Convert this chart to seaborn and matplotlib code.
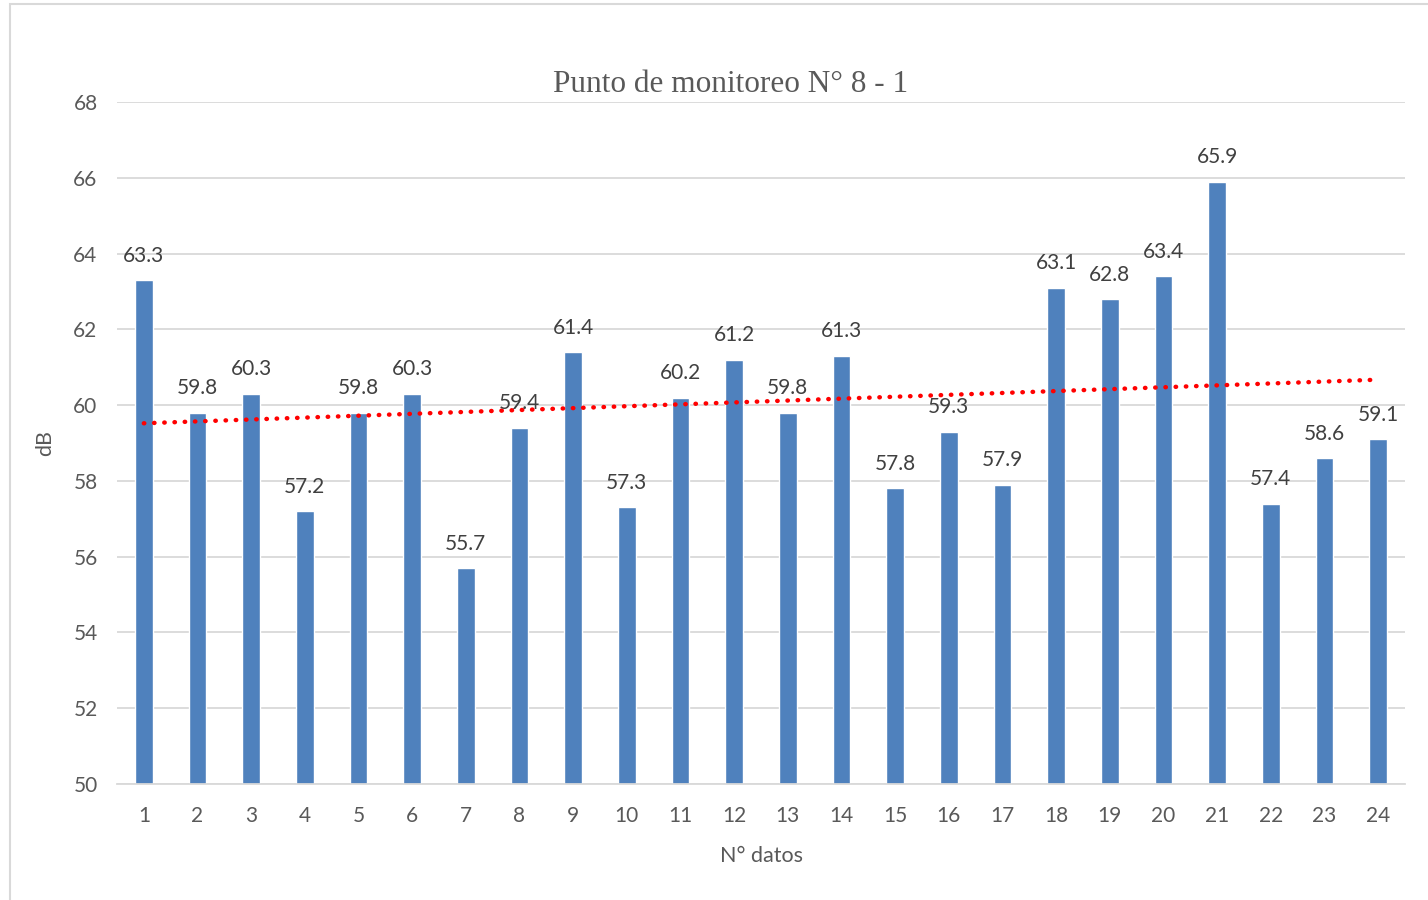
import numpy as np
import pandas as pd
import matplotlib
matplotlib.use("Agg")
import matplotlib.pyplot as plt
import seaborn as sns
from matplotlib.patches import Rectangle

categories = [str(i) for i in range(1, 25)]
values = [63.3, 59.8, 60.3, 57.2, 59.8, 60.3, 55.7, 59.4, 61.4, 57.3, 60.2, 61.2,
          59.8, 61.3, 57.8, 59.3, 57.9, 63.1, 62.8, 63.4, 65.9, 57.4, 58.6, 59.1]
yticks = [50, 52, 54, 56, 58, 60, 62, 64, 66, 68]
title = "Punto de monitoreo N° 8 - 1"
xlabel = "N° datos"
ylabel = "dB"

sns.set_theme(style="white")
plt.rcParams['font.family'] = ['Lato', 'DejaVu Sans']

df = pd.DataFrame({"cat": categories, "val": values})

fig = plt.figure(figsize=(14.28, 9), dpi=100)
ax = fig.add_axes([117/1428, 1-784/900, (1405-117)/1428, (784-102)/900])

sns.barplot(data=df, x="cat", y="val", color="#4F81BD", width=0.33, ax=ax,
            saturation=1)
ax.set_ylim(50, 68)
ax.set_yticks(yticks)
ax.set_xlim(-0.5, 23.5)
ax.yaxis.grid(True, color="#D9D9D9", linewidth=1.3)
ax.set_axisbelow(True)
for s in ["top", "right", "left"]:
    ax.spines[s].set_visible(False)
ax.spines["bottom"].set_color("#D9D9D9")
ax.spines["bottom"].set_linewidth(1.3)
ax.tick_params(axis="both", length=0, labelsize=15, colors="#595959")
ax.tick_params(axis="x", pad=16)
ax.tick_params(axis="y", pad=14)

for i, v in enumerate(values):
    ax.text(i, v + 0.38, f"{v:.1f}", ha="center", va="bottom", fontsize=15, color="#404040")

x = np.arange(len(values))
coef = np.polyfit(x, values, 1)
ax.plot(x, np.polyval(coef, x), color="#FF0000", linestyle=(0, (0.1, 2.2)), linewidth=3.2,
        dash_capstyle="round")

ax.set_xlabel(xlabel, fontsize=15.5, color="#595959", labelpad=14)
ax.set_ylabel(ylabel, fontsize=15.5, color="#595959", labelpad=13)
fig.text(731/1428, 1-84/900, title, ha="center", va="center", fontsize=22.5,
         family="Liberation Serif", color="#595959")

fig.patches.append(Rectangle((10/1428, -0.1), 1.2, 0.1 + 1 - 4/900, transform=fig.transFigure,
                             fill=False, edgecolor="#D9D9D9", linewidth=1.5))

fig.savefig("out.png", dpi=100)
